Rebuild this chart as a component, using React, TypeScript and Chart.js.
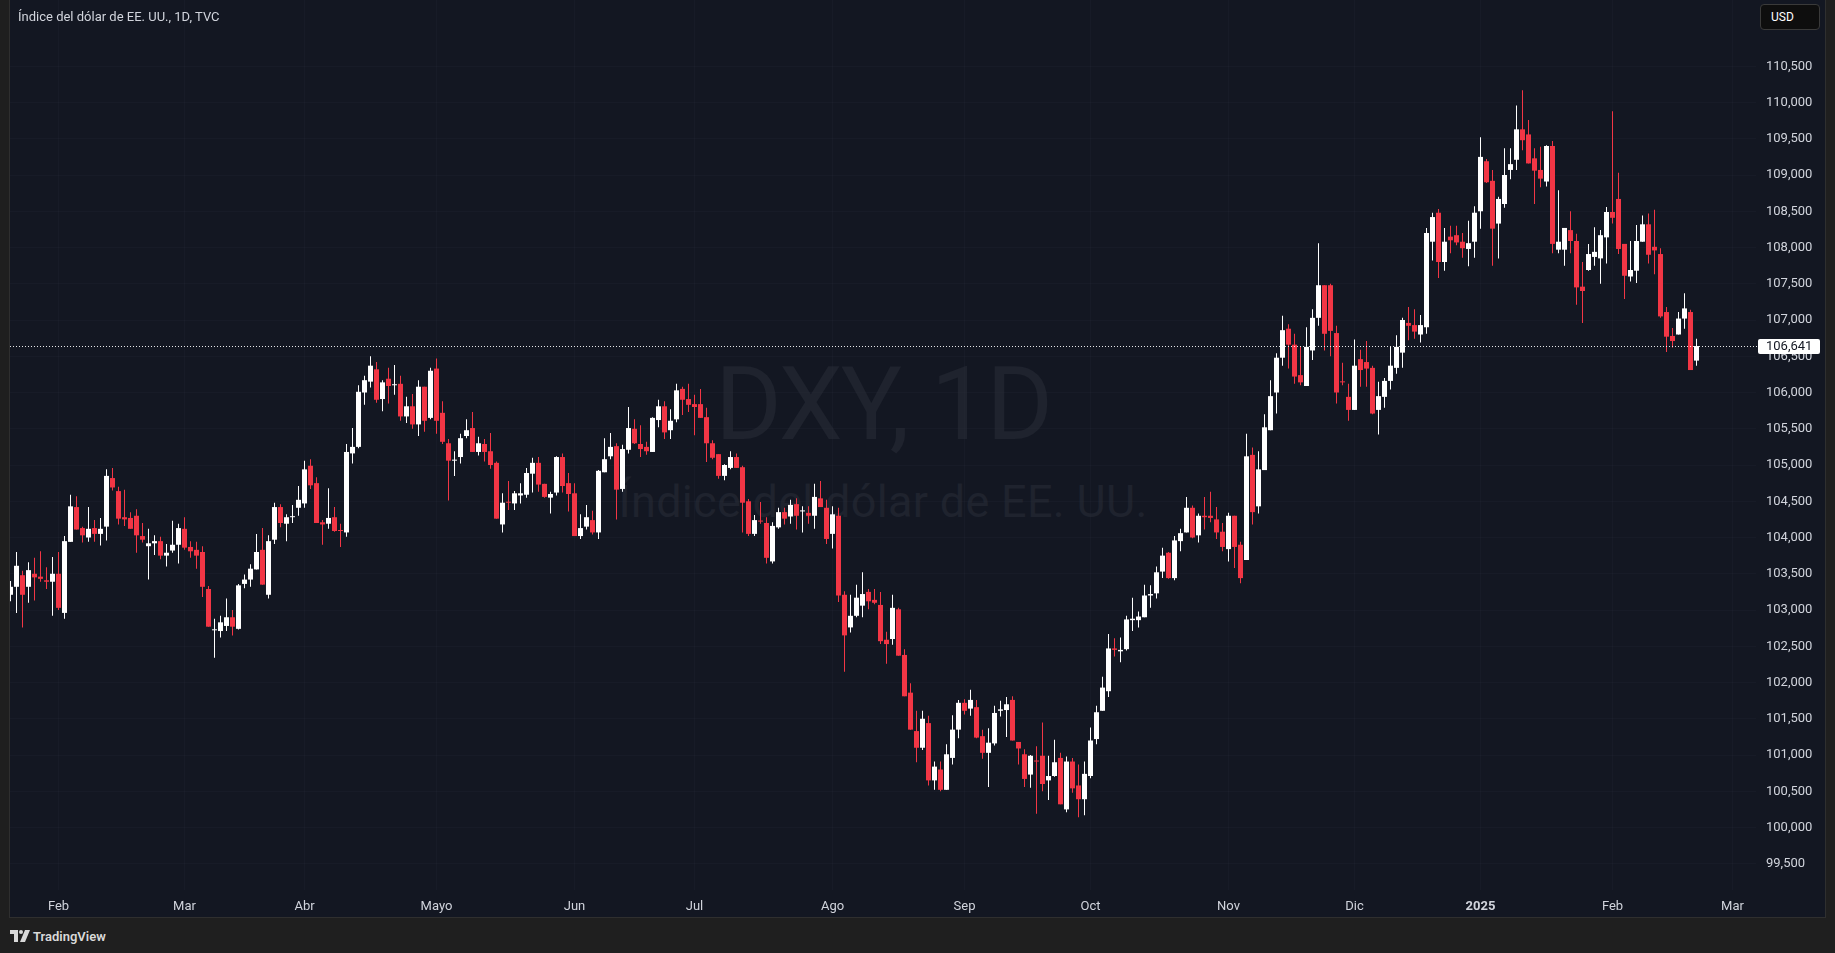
import React, { useEffect, useRef } from 'react';
import { Chart, registerables } from 'chart.js';

Chart.register(...registerables);

// ---------- categories ----------
const START_DATE = '2024-01-22';
const CLOSED_DAYS = ['2024-03-29', '2024-12-25', '2025-01-01'];
const SLOT_COUNT = 292;
const MONTH_LABELS = ['Feb', 'Mar', 'Abr', 'Mayo', 'Jun', 'Jul', 'Ago', 'Sep', 'Oct', 'Nov', 'Dic', '2025', 'Feb', 'Mar'];
const PRICE_TICKS = [99.5, 100, 100.5, 101, 101.5, 102, 102.5, 103, 103.5, 104, 104.5, 105, 105.5, 106, 106.5, 107, 107.5, 108, 108.5, 109, 109.5, 110, 110.5];
const LAST_PRICE = 106.641;

// ---------- series (daily OHLC, DXY) ----------
const opens = [
  103.21, 103.32, 103.48, 103.32, 103.50, 103.46, 103.41, 103.39, 103.50, 102.96,
  103.94, 104.42, 104.13, 104.00, 104.13, 104.05, 104.15, 104.82, 104.64, 104.28,
  104.27, 104.30, 104.02, 103.88, 103.92, 103.95, 103.75, 103.82, 103.90, 104.12,
  103.87, 103.83, 103.80, 103.29, 102.72, 102.71, 102.78, 102.90, 102.74, 103.36,
  103.42, 103.56, 103.83, 103.21, 103.97, 104.42, 104.19, 104.28, 104.41, 104.47,
  104.99, 104.75, 104.21, 104.19, 104.28, 104.10, 104.07, 105.16, 105.25, 106.00,
  106.15, 106.32, 105.91, 106.19, 106.10, 106.12, 105.67, 105.81, 105.56, 106.08,
  105.65, 106.33, 105.72, 105.30, 105.06, 105.11, 105.40, 105.51, 105.18, 105.29,
  105.19, 105.03, 104.18, 104.49, 104.47, 104.58, 104.59, 104.88, 105.03, 104.74,
  104.55, 104.62, 105.11, 104.75, 104.61, 104.02, 104.15, 104.24, 104.07, 104.90,
  105.12, 105.26, 104.67, 105.21, 105.50, 105.29, 105.25, 105.18, 105.62, 105.81,
  105.48, 105.63, 106.05, 105.91, 105.84, 105.84, 105.66, 105.30, 105.15, 104.85,
  104.96, 105.11, 104.97, 104.50, 104.05, 104.23, 104.20, 103.67, 104.14, 104.35,
  104.29, 104.46, 104.36, 104.34, 104.30, 104.54, 104.41, 104.05, 104.30, 103.21,
  102.76, 102.92, 103.06, 103.25, 103.14, 103.07, 102.59, 102.60, 103.01, 102.38,
  101.86, 101.33, 101.10, 101.44, 100.65, 100.80, 100.52, 100.96, 101.35, 101.72,
  101.64, 101.66, 101.26, 101.03, 101.16, 101.61, 101.62, 101.76, 101.18, 101.01,
  100.73, 100.92, 100.99, 100.65, 100.71, 100.96, 100.25, 100.91, 100.58, 100.39,
  100.71, 101.22, 101.61, 101.88, 102.47, 102.43, 102.46, 102.86, 102.86, 102.90,
  103.20, 103.23, 103.53, 103.79, 103.44, 103.95, 104.07, 104.41, 104.03, 104.30,
  104.30, 104.25, 104.08, 103.84, 104.30, 103.90, 103.69, 105.14, 104.43, 104.93,
  105.48, 106.00, 106.48, 106.88, 106.66, 106.24, 106.09, 106.58, 107.03, 107.48,
  107.48, 106.82, 106.15, 105.94, 105.76, 106.46, 106.42, 106.34, 105.76, 105.94,
  106.16, 106.34, 106.55, 106.96, 106.93, 106.80, 106.90, 108.08, 108.48, 107.80,
  108.15, 108.17, 108.08, 107.98, 108.08, 108.50, 109.19, 108.92, 108.33, 108.60,
  109.07, 109.21, 109.63, 109.56, 109.23, 109.07, 108.91, 109.40, 107.97, 107.97,
  108.24, 108.09, 107.46, 107.69, 107.87, 107.85, 108.14, 108.49, 108.67, 108.05,
  107.60, 107.68, 108.08, 108.32, 108.01, 107.91, 107.11, 106.78, 106.80, 107.02,
  107.11, 106.44,
];
const highs = [
  103.40, 103.80, 103.54, 103.66, 103.72, 103.81, 103.59, 103.73, 103.80, 104.02,
  104.59, 104.57, 104.15, 104.42, 104.24, 104.27, 104.94, 104.96, 104.70, 104.66,
  104.35, 104.39, 104.20, 104.12, 104.03, 104.01, 103.91, 104.23, 104.19, 104.28,
  103.95, 103.94, 103.88, 103.33, 102.88, 102.92, 103.16, 103.00, 103.36, 103.49,
  103.63, 104.05, 104.13, 104.03, 104.48, 104.46, 104.32, 104.45, 104.71, 105.06,
  105.08, 104.83, 104.24, 104.68, 104.42, 104.19, 105.29, 105.51, 106.10, 106.23,
  106.50, 106.42, 106.17, 106.34, 106.38, 106.23, 105.94, 105.98, 106.17, 106.08,
  106.34, 106.47, 105.88, 105.36, 105.19, 105.43, 105.63, 105.73, 105.39, 105.36,
  105.44, 105.05, 104.61, 104.78, 104.64, 104.75, 104.96, 105.10, 105.11, 104.74,
  104.63, 105.12, 105.16, 104.89, 104.75, 104.32, 104.45, 104.37, 104.93, 105.37,
  105.44, 105.30, 105.28, 105.80, 105.63, 105.55, 105.32, 105.66, 105.90, 105.88,
  105.77, 106.12, 106.08, 106.12, 105.97, 106.05, 105.79, 105.34, 105.15, 105.01,
  105.19, 105.16, 104.99, 104.53, 104.31, 104.49, 104.28, 104.21, 104.41, 104.41,
  104.52, 104.54, 104.43, 104.43, 104.74, 104.78, 104.52, 104.43, 104.41, 103.26,
  103.21, 103.35, 103.52, 103.29, 103.29, 103.25, 102.70, 103.21, 103.03, 102.46,
  101.99, 101.61, 101.61, 101.54, 100.91, 100.91, 101.15, 101.55, 101.76, 101.77,
  101.90, 101.76, 101.35, 101.37, 101.68, 101.75, 101.80, 101.81, 101.18, 101.08,
  101.00, 101.12, 101.45, 100.99, 101.21, 101.03, 100.98, 100.96, 100.87, 100.91,
  101.38, 101.68, 102.08, 102.67, 102.61, 102.62, 102.92, 103.17, 102.98, 103.35,
  103.34, 103.60, 103.86, 103.80, 104.02, 104.12, 104.56, 104.44, 104.33, 104.56,
  104.63, 104.42, 104.20, 104.34, 104.30, 103.94, 105.43, 105.24, 105.19, 105.70,
  106.17, 106.54, 107.06, 106.94, 106.81, 106.63, 106.90, 107.15, 108.06, 107.48,
  107.50, 106.92, 106.41, 106.12, 106.73, 106.59, 106.71, 106.37, 106.15, 106.20,
  106.63, 106.79, 107.03, 107.18, 107.15, 107.07, 108.27, 108.48, 108.53, 108.27,
  108.30, 108.30, 108.20, 108.37, 108.57, 109.52, 109.22, 109.07, 108.70, 109.37,
  109.37, 109.96, 110.17, 109.76, 109.37, 109.39, 109.41, 109.47, 108.79, 108.27,
  108.50, 108.19, 107.80, 108.05, 108.28, 108.24, 108.56, 109.88, 109.03, 108.05,
  108.09, 108.31, 108.44, 108.47, 108.52, 107.99, 107.18, 106.89, 107.11, 107.37,
  107.14, 106.74,
];
const lows = [
  103.12, 102.96, 102.76, 103.10, 103.13, 103.39, 103.29, 102.92, 103.00, 102.88,
  103.94, 104.11, 103.93, 103.94, 103.94, 103.89, 103.96, 104.65, 104.18, 104.16,
  104.12, 103.79, 103.93, 103.42, 103.76, 103.70, 103.60, 103.79, 103.64, 103.83,
  103.72, 103.57, 103.18, 102.77, 102.34, 102.62, 102.71, 102.65, 102.73, 103.30,
  103.32, 103.56, 103.35, 103.16, 103.91, 104.14, 103.95, 104.20, 104.30, 104.41,
  104.67, 104.20, 103.90, 104.12, 104.08, 103.87, 104.01, 105.02, 105.23, 105.83,
  106.07, 105.86, 105.74, 105.85, 105.97, 105.61, 105.58, 105.50, 105.40, 105.46,
  105.63, 105.43, 105.29, 104.51, 104.85, 105.02, 105.37, 105.18, 105.13, 105.05,
  104.95, 104.26, 104.07, 104.38, 104.38, 104.47, 104.55, 104.62, 104.63, 104.55,
  104.33, 104.58, 104.62, 104.36, 104.02, 103.98, 104.11, 104.04, 103.98, 104.90,
  105.08, 104.25, 104.63, 105.16, 105.29, 105.11, 105.14, 105.18, 105.52, 105.36,
  105.36, 105.59, 105.69, 105.73, 105.41, 105.65, 105.04, 105.08, 104.81, 104.79,
  104.94, 104.96, 104.07, 104.02, 104.02, 104.19, 103.64, 103.64, 104.12, 104.18,
  104.19, 104.11, 104.07, 104.19, 104.12, 104.42, 103.91, 103.85, 103.11, 102.15,
  102.69, 102.90, 102.90, 103.01, 103.08, 102.53, 102.26, 102.52, 102.37, 101.81,
  101.35, 100.90, 101.07, 100.58, 100.52, 100.50, 100.52, 100.87, 101.23, 101.56,
  101.54, 101.23, 100.95, 100.56, 101.13, 101.53, 101.25, 101.20, 100.87, 100.56,
  100.55, 100.19, 100.50, 100.38, 100.70, 100.32, 100.21, 100.48, 100.14, 100.17,
  100.68, 101.15, 101.61, 101.80, 102.36, 102.28, 102.44, 102.71, 102.76, 102.90,
  103.03, 103.16, 103.44, 103.43, 103.41, 103.81, 104.07, 103.99, 103.93, 104.11,
  104.21, 103.98, 103.81, 103.67, 103.58, 103.37, 103.69, 104.18, 104.33, 104.93,
  105.48, 105.71, 106.37, 106.33, 106.12, 106.10, 106.09, 106.45, 106.92, 106.58,
  106.50, 105.85, 106.10, 105.61, 105.76, 106.08, 106.08, 105.70, 105.42, 105.79,
  106.04, 106.26, 106.34, 106.72, 106.74, 106.69, 106.81, 107.82, 107.58, 107.68,
  107.92, 108.03, 107.86, 107.74, 107.86, 108.26, 108.89, 107.75, 107.85, 108.55,
  108.94, 109.07, 109.34, 109.16, 108.60, 108.83, 108.84, 107.92, 107.92, 107.75,
  107.92, 107.21, 106.96, 107.68, 107.75, 107.50, 107.78, 108.33, 107.91, 107.29,
  107.53, 107.51, 108.08, 107.78, 107.63, 107.03, 106.56, 106.62, 106.80, 106.88,
  106.31, 106.37,
];
const closes = [
  103.32, 103.61, 103.21, 103.55, 103.45, 103.43, 103.39, 103.50, 103.03, 103.95,
  104.43, 104.11, 104.03, 104.12, 104.05, 104.12, 104.85, 104.69, 104.26, 104.25,
  104.12, 104.03, 103.97, 103.92, 103.95, 103.75, 103.79, 103.90, 104.13, 103.86,
  103.81, 103.75, 103.32, 102.77, 102.73, 102.83, 102.90, 102.77, 103.34, 103.42,
  103.57, 103.80, 103.35, 103.95, 104.42, 104.20, 104.28, 104.29, 104.52, 104.94,
  104.72, 104.20, 104.18, 104.27, 104.09, 104.09, 105.18, 105.25, 106.01, 106.17,
  106.37, 105.90, 106.14, 106.09, 106.11, 105.67, 105.81, 105.56, 106.08, 105.61,
  106.30, 105.61, 105.32, 105.06, 105.07, 105.37, 105.48, 105.18, 105.30, 105.18,
  105.00, 104.26, 104.48, 104.48, 104.61, 104.61, 104.89, 105.03, 104.73, 104.56,
  104.60, 105.11, 104.71, 104.60, 104.02, 104.13, 104.28, 104.07, 104.92, 105.08,
  105.25, 104.66, 105.22, 105.51, 105.30, 105.22, 105.19, 105.65, 105.81, 105.45,
  105.61, 106.03, 105.90, 105.83, 105.80, 105.65, 105.30, 105.10, 104.85, 105.00,
  105.11, 104.96, 104.48, 104.05, 104.24, 104.22, 103.72, 104.16, 104.35, 104.26,
  104.45, 104.30, 104.37, 104.30, 104.56, 104.42, 103.98, 104.32, 103.20, 102.65,
  102.92, 103.17, 103.22, 103.12, 103.10, 102.57, 102.53, 103.03, 102.37, 101.81,
  101.35, 101.10, 101.50, 100.65, 100.84, 100.52, 101.01, 101.35, 101.72, 101.61,
  101.76, 101.24, 101.03, 101.17, 101.58, 101.63, 101.70, 101.20, 101.09, 100.67,
  100.99, 100.91, 100.60, 100.71, 100.90, 100.32, 100.91, 100.54, 100.39, 100.74,
  101.20, 101.59, 101.93, 102.47, 102.45, 102.45, 102.87, 102.88, 102.91, 103.20,
  103.22, 103.52, 103.75, 103.44, 103.96, 104.06, 104.41, 104.00, 104.30, 104.28,
  104.27, 104.07, 103.87, 104.30, 103.87, 103.44, 105.12, 104.35, 104.94, 105.52,
  105.95, 106.48, 106.86, 106.66, 106.22, 106.14, 106.63, 107.03, 107.48, 106.81,
  106.85, 106.00, 106.14, 105.76, 106.37, 106.31, 106.33, 105.71, 105.95, 106.16,
  106.37, 106.63, 107.00, 106.92, 106.84, 106.93, 108.20, 108.42, 107.80, 108.08,
  108.10, 108.07, 107.99, 108.06, 108.48, 109.25, 108.90, 108.26, 108.67, 109.00,
  109.15, 109.63, 109.48, 109.16, 109.06, 108.95, 109.40, 108.05, 108.08, 108.27,
  108.09, 107.45, 107.40, 107.91, 107.94, 108.17, 108.49, 108.41, 107.98, 107.61,
  107.69, 108.09, 108.32, 107.90, 107.96, 107.05, 106.77, 106.71, 107.02, 107.16,
  106.31, 106.641,
];

// ---------- style constants ----------
const UP_COLOR = '#ffffff';
const DOWN_COLOR = '#f23645';
const TEXT_COLOR = '#d1d4dc';
const GRID_COLOR = 'rgba(42,46,57,0.22)';
const PANEL_W = 1815;
const PANEL_H = 917;
const PRICE_AXIS_W = 69;
const TIME_AXIS_H = 27;
const X_MIN = -1 / 12;
const X_MAX = X_MIN + 291;
const Y_MIN = 99.138;
const Y_MAX = 111.414;

function tradingDays(start: string, count: number, closed: string[]): string[] {
  const out: string[] = [];
  const d = new Date(start + 'T00:00:00Z');
  while (out.length < count) {
    const wd = d.getUTCDay();
    const iso = d.toISOString().slice(0, 10);
    if (wd !== 0 && wd !== 6 && !closed.includes(iso)) out.push(iso);
    d.setUTCDate(d.getUTCDate() + 1);
  }
  return out;
}

const dates = tradingDays(START_DATE, SLOT_COUNT, CLOSED_DAYS);
const monthStartIdx: number[] = [];
dates.forEach((d, i) => {
  if (i > 0 && d.slice(0, 7) !== dates[i - 1].slice(0, 7)) monthStartIdx.push(i);
});

const fmtPrice = (v: number) => v.toFixed(3).replace('.', ',');

const lastPricePlugin = {
  id: 'lastPrice',
  afterDatasetsDraw(chart: any) {
    const { ctx, chartArea, scales } = chart;
    const py = Math.round(scales.y.getPixelForValue(LAST_PRICE)) + 0.5;
    ctx.save();
    ctx.strokeStyle = 'rgba(255,255,255,0.9)';
    ctx.lineWidth = 1;
    ctx.setLineDash([1, 2]);
    ctx.beginPath();
    ctx.moveTo(chartArea.left, py);
    ctx.lineTo(chartArea.right + 2, py);
    ctx.stroke();
    ctx.restore();
  },
  afterDraw(chart: any) {
    const { ctx, chartArea, scales } = chart;
    const py = Math.round(scales.y.getPixelForValue(LAST_PRICE));
    const x0 = chartArea.right + 2;
    const w = 62;
    const h = 15;
    ctx.save();
    ctx.fillStyle = '#ffffff';
    ctx.beginPath();
    if ((ctx as any).roundRect) (ctx as any).roundRect(x0, py - 7, w, h, 2);
    else ctx.rect(x0, py - 7, w, h);
    ctx.fill();
    ctx.fillStyle = '#131722';
    ctx.font = '13px Roboto';
    ctx.textAlign = 'left';
    ctx.textBaseline = 'middle';
    ctx.fillText(fmtPrice(LAST_PRICE), chartArea.right + 10, py + 0.5);
    ctx.restore();
  },
};

export default function App() {
  const canvasRef = useRef<HTMLCanvasElement>(null);

  useEffect(() => {
    if (!canvasRef.current) return;
    Chart.defaults.font.family = 'Roboto, sans-serif';
    const idx = opens.map((_, i) => i);
    const colors = idx.map((i) => (closes[i] >= opens[i] ? UP_COLOR : DOWN_COLOR));

    const chart = new Chart(canvasRef.current, {
      type: 'bar',
      data: {
        datasets: [
          {
            label: 'wicks',
            data: idx.map((i) => ({ x: i, y: [lows[i], highs[i]] })) as any,
            backgroundColor: colors,
            grouped: false,
            barPercentage: 1,
            categoryPercentage: 1,
            maxBarThickness: 1,
            inflateAmount: 0,
            order: 2,
          } as any,
          {
            label: 'bodies',
            data: idx.map((i) => ({ x: i, y: [opens[i], closes[i]] })) as any,
            backgroundColor: colors,
            grouped: false,
            barPercentage: 1,
            categoryPercentage: 1,
            maxBarThickness: 5,
            minBarLength: 1,
            inflateAmount: 0,
            order: 1,
          } as any,
        ],
      },
      options: {
        animation: false,
        responsive: false,
        devicePixelRatio: 1,
        layout: { padding: 0 },
        plugins: {
          legend: { display: false },
          tooltip: { enabled: false },
          title: { display: false },
        },
        scales: {
          x: {
            type: 'linear',
            min: X_MIN,
            max: X_MAX,
            offset: false,
            grid: { color: GRID_COLOR, drawTicks: false, offset: false, lineWidth: 1 },
            border: { display: false },
            ticks: {
              autoSkip: false,
              maxRotation: 0,
              padding: 9,
              color: TEXT_COLOR,
              font: (ctx: any) => ({
                size: 13,
                weight: MONTH_LABELS[ctx.index] === '2025' ? 'bold' : 'normal',
              }),
              callback: (_v: any, i: number) => MONTH_LABELS[i] ?? '',
            },
            afterBuildTicks: (scale: any) => {
              scale.ticks = monthStartIdx.slice(0, MONTH_LABELS.length).map((v) => ({ value: v }));
            },
            afterFit: (scale: any) => {
              scale.height = TIME_AXIS_H;
              scale.paddingLeft = 0;
              scale.paddingRight = 0;
            },
          } as any,
          y: {
            type: 'linear',
            position: 'right',
            min: Y_MIN,
            max: Y_MAX,
            grid: { color: GRID_COLOR, drawTicks: false, lineWidth: 1 },
            border: { display: false },
            ticks: {
              padding: 10,
              color: TEXT_COLOR,
              font: { size: 13 },
              callback: (v: any) => fmtPrice(Number(v)),
            },
            afterBuildTicks: (scale: any) => {
              scale.ticks = PRICE_TICKS.map((v) => ({ value: v }));
            },
            afterFit: (scale: any) => {
              scale.width = PRICE_AXIS_W;
              scale.paddingTop = 0;
              scale.paddingBottom = 0;
            },
          } as any,
        },
      },
      plugins: [lastPricePlugin],
    } as any);

    return () => chart.destroy();
  }, []);

  const plotW = PANEL_W - PRICE_AXIS_W;

  return (
    <div
      style={{
        position: 'fixed',
        left: 0,
        top: 0,
        width: 1835,
        height: 953,
        background: '#1f1f1f',
        overflow: 'hidden',
        fontFamily: 'Roboto, sans-serif',
      }}
    >
      <div
        style={{
          position: 'absolute',
          left: 10,
          top: 0,
          width: PANEL_W,
          height: PANEL_H,
          background: '#131722',
          outline: '1px solid #2f2f2f',
        }}
      >
        {/* watermark */}
        <div
          style={{
            position: 'absolute',
            left: 0,
            top: 353,
            width: plotW,
            textAlign: 'center',
            fontSize: 102,
            lineHeight: '102px',
            color: '#1f232e',
            whiteSpace: 'nowrap',
            letterSpacing: -2,
          }}
        >
          DXY, 1D
        </div>
        <div
          style={{
            position: 'absolute',
            left: 0,
            top: 479,
            width: plotW,
            textAlign: 'center',
            fontSize: 45,
            lineHeight: '45px',
            color: '#1f232e',
            whiteSpace: 'nowrap',
            letterSpacing: 0.3,
          }}
        >
          Índice del dólar de EE. UU.
        </div>

        <canvas
          ref={canvasRef}
          width={PANEL_W}
          height={PANEL_H}
          style={{ position: 'absolute', left: 0, top: 0, width: PANEL_W, height: PANEL_H }}
        />

        {/* title */}
        <div
          style={{
            position: 'absolute',
            left: 8,
            top: 10,
            fontSize: 13,
            lineHeight: '13px',
            color: TEXT_COLOR,
            whiteSpace: 'nowrap',
          }}
        >
          Índice del dólar de EE. UU., 1D, TVC
        </div>

        {/* currency button */}
        <div
          style={{
            position: 'absolute',
            left: 1750,
            top: 4,
            width: 60,
            height: 26,
            boxSizing: 'border-box',
            border: '1px solid #3a3a3a',
            borderRadius: 4,
            background: '#0e0e0e',
            color: '#ffffff',
            fontSize: 12,
            lineHeight: '24px',
            paddingLeft: 10,
          }}
        >
          USD
        </div>
      </div>

      {/* TradingView logo */}
      <svg
        width={20}
        height={12}
        viewBox="0 0 20 12"
        style={{ position: 'absolute', left: 10, top: 930 }}
      >
        <path d="M0 0H8V12H4V4H0Z" fill="#d9d9d9" />
        <circle cx="11" cy="2" r="2" fill="#d9d9d9" />
        <path d="M15 0H20L15 12H10Z" fill="#d9d9d9" />
      </svg>
      <div
        style={{
          position: 'absolute',
          left: 33,
          top: 930,
          fontSize: 13,
          lineHeight: '13px',
          fontWeight: 600,
          color: '#d9d9d9',
          whiteSpace: 'nowrap',
        }}
      >
        TradingView
      </div>
    </div>
  );
}
